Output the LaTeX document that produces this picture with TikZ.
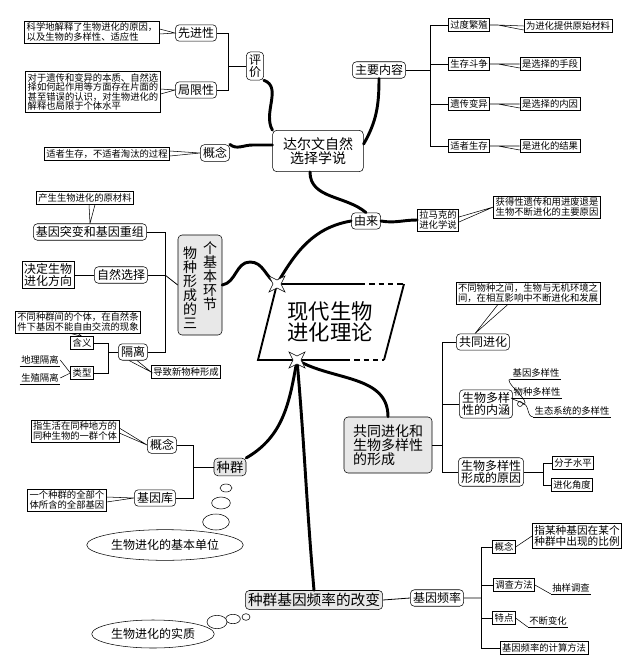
\documentclass[tikz,border=0pt]{standalone}
\usepackage{fontspec}
\setmainfont{Noto Sans CJK SC}
\usetikzlibrary{shapes.geometric,calc}
\newcommand{\fs}[1]{\fontsize{#1}{#1}\selectfont}
\tikzset{
  leaf/.style={draw, thin, inner sep=1.5pt, font=\fs{7}, align=left, fill=white},
  mid/.style={draw, rounded corners=3pt, inner sep=2pt, font=\fs{9}, align=center, fill=white},
  gbox/.style={mid, fill=gray!18},
  plain/.style={inner sep=1pt, font=\fs{7}},
  trunk/.style={line width=2.2pt, line cap=round},
  twig/.style={line width=0.6pt},
  bubble/.style={draw, ellipse, thin, fill=white, inner sep=1pt, font=\fs{9}},
  spark/.style={draw, star, star points=4, star point ratio=0.35, minimum size=6pt, fill=white, inner sep=0pt, thin}
}
\newcommand{\tail}[2]{\draw[thin] ($(#1.east)+(0,2)$) -- (#2.west) -- ($(#1.east)+(0,-3)$);}
\newcommand{\uline}[1]{\draw[thin] (#1.south west) -- (#1.south east);}
\begin{document}
\begin{tikzpicture}[x=0.75pt, y=-0.75pt]
		\useasboundingbox (0,0) rectangle (640,672);
		% centre
		\coordinate (c1) at (277,284);
		\coordinate (c2) at (404,284);
		\coordinate (c3) at (384,360);
		\coordinate (c4) at (258,360);
		\draw[line width=1.4pt] (360,284) -- (c1) -- (c4) -- (345,360);
		\draw[line width=1.4pt, dash pattern=on 4pt off 3pt] (360,284) -- (c2);
		\draw[line width=1.4pt] (c2) -- (c3);
		\draw[line width=1.4pt, dash pattern=on 4pt off 3pt] (345,360) -- (c3);
		\node[font=\fs{16}, align=center] (core) at (330,322) {现代生物\\进化理论};
		% Darwin
		\node[mid, font=\fs{10.5}, minimum width=68pt, minimum height=31pt] (dew) at (318,151) {达尔文自然\\选择学说};
		\node[mid] (zy) at (379,70) {主要内容};
		\node[leaf] (gd) at (469,25) {过度繁殖};
		\node[leaf] (gd2) at (568,26) {为进化提供原始材料};
		\node[leaf] (sc) at (469,64) {生存斗争};
		\node[leaf] (sc2) at (550,64) {是选择的手段};
		\node[leaf] (yc) at (469,104) {遗传变异};
		\node[leaf] (yc2) at (550,104) {是选择的内因};
		\node[leaf] (sz) at (469,146) {适者生存};
		\node[leaf] (sz2) at (550,146) {是进化的结果};
		\coordinate (b1) at (430,70);
		\draw[twig] (zy.east) -- (b1);
		\foreach \n in {gd,sc,yc,sz} \draw[twig] (b1) |- (\n.west);
		\foreach \n in {gd,sc,yc,sz} \draw[thin] (\n.east) -- ++(8,0) -- (\n2.west) (\n.east) -- ++(8,0) -- ($(\n2.west)+(0,4)$);
		\node[mid, font=\fs{9}] (pj) at (255,66) {评\\价};
		\node[mid] (xj) at (196,33) {先进性};
		\node[leaf] (xj2) at (92,32) {科学地解释了生物进化的原因，\\以及生物的多样性、适应性};
		\node[mid] (jx) at (196,90) {局限性};
		\node[leaf] (jx2) at (93,92) {对于遗传和变异的本质、自然选\\择如何起作用等方面存在片面的\\甚至错误的认识，对生物进化的\\解释也局限于个体水平};
		\coordinate (b2) at (228,66);
		\draw[twig] (pj.west) -- (b2);
		\foreach \n in {xj,jx} \draw[twig] (b2) |- (\n.east);
		\tail{xj2}{xj}
		\tail{jx2}{jx}
		\node[mid] (gn) at (215,153) {概念};
		\node[leaf] (gn2) at (107,154) {适者生存，不适者淘汰的过程};
		\tail{gn2}{gn}
		\node[mid] (yl) at (366,221) {由来};
		\node[leaf, align=center] (lmk) at (438,220) {拉马克的\\进化学说};
		\node[leaf] (lmk2) at (547,207) {获得性遗传和用进废退是\\生物不断进化的主要原因};
		\tail{lmk}{lmk2}
		\draw[trunk] (dew.north west) to[out=120, in=-20] (pj.south east);
		\draw[trunk] ($(dew.west)+(0,-6)$) to[out=180, in=0] ++(-20,0) to[out=180, in=-40] (gn.north east);
		\draw[trunk] ($(dew.north east)+(0,14)$) to[out=60, in=-90] (zy.south);
		\draw[trunk] ($(dew.south)+(-8,0)$) to[out=-90, in=140] (yl.north);
		\draw[trunk] (yl.east) to[out=-10, in=180] (lmk.west);
		\draw[trunk] (c1) to[out=60, in=190] (yl.west);
		% speciation
		\node[gbox, minimum width=33pt, minimum height=75pt] (wz) at (200,285) {};
		\node[font=\fs{10.5}, align=center] (wzl) at (190,288) {物\\种\\形\\成\\的\\三};
		\node[font=\fs{10.5}, align=center] (wzr) at (210,276) {个\\基\\本\\环\\节};
		\node[mid] (jt) at (90,232) {基因突变和基因重组};
		\node[leaf] (jt2) at (85,198) {产生生物进化的原材料};
		\node[mid] (zr) at (121,275) {自然选择};
		\node[leaf, font=\fs{9}, align=center] (zr2) at (48,275) {决定生物\\进化方向};
		\node[mid] (gl) at (133,352) {隔离};
		\node[leaf] (hy) at (82,343) {含义};
		\node[leaf] (hy2) at (78,322) {不同种群间的个体，在自然条\\件下基因不能自由交流的现象};
		\node[leaf] (lx) at (82,373) {类型};
		\node[plain] (dl) at (40,360) {地理隔离};
		\node[plain] (sz3) at (40,378) {生殖隔离};
		\uline{dl} \uline{sz3}
		\node[leaf] (dz) at (186,372) {导致新物种形成};
		\coordinate (b3) at (165,275);
		\draw[twig] (wz.west) -- (b3);
		\draw[twig] (jt.east) -| (b3) (gl.east) -| (b3) (zr.east) -- (b3);
		\draw[thin] (jt2.south) -- ++(4,0) -- (jt.north) (jt2.south) -- ++(10,0) -- (jt.north);
		\draw[thin] (zr2.east) -- (zr.west);
		\draw[thin] ($(hy2.south)+(-8,0)$) -- (hy.north) -- ($(hy2.south)+(0,0)$);
		\draw[twig] (gl.west) -- ++(-10,0) coordinate (b4);
		\draw[twig] (b4) |- (hy.east) (b4) |- (lx.east);
		\draw[thin] (dl.east) -- (lx.west) -- (sz3.east);
		\draw[thin] ($(gl.south)+(-4,0)$) -- (dz.west) -- ($(gl.south)+(4,0)$);
		\draw[trunk] (wz.east) to[out=10, in=180] (250,262) to[out=0, in=150] (c1);
		\node[spark] (s1) at (c1) {};
		% population
		\node[gbox, font=\fs{10}] (zq) at (230,467) {种群};
		\node[mid] (zgn) at (162,445) {概念};
		\node[leaf] (zgn2) at (75,431) {指生活在同种地方的\\同种生物的一群个体};
		\node[mid] (jyk) at (155,498) {基因库};
		\node[leaf] (jyk2) at (67,500) {一个种群的全部个\\体所含的全部基因};
		\coordinate (b5) at (193,467);
		\draw[twig] (zq.west) -- (b5);
		\draw[twig] (b5) |- (zgn.east) (b5) |- (jyk.east);
		\tail{zgn2}{zgn}
		\tail{jyk2}{jyk}
		\node[bubble, minimum width=9pt, minimum height=6pt] (p1) at (226,488) {};
		\node[bubble, minimum width=14pt, minimum height=9pt] (p2) at (221,503) {};
		\node[bubble, minimum width=20pt, minimum height=12pt] (p3) at (216,522) {};
		\node[bubble, minimum width=103pt, minimum height=23pt] (jbdw) at (165,545) {生物进化的基本单位};
		% gene frequency
		\node[gbox, font=\fs{11}] (gbl) at (314,600) {种群基因频率的改变};
		\node[mid] (jypl) at (437,598) {基因频率};
		\node[leaf] (fgn) at (504,547) {概念};
		\node[leaf, font=\fs{8}] (fgn2) at (577,536) {指某种基因在某个\\种群中出现的比例};
		\node[leaf] (dc) at (514,585) {调查方法};
		\node[plain] (dc2) at (571,588) {抽样调查};
		\node[leaf] (td) at (504,618) {特点};
		\node[plain] (td2) at (548,621) {不断变化};
		\node[leaf] (js) at (544,648) {基因频率的计算方法};
		\uline{dc2} \uline{td2}
		\coordinate (b6) at (481,598);
		\draw[twig] (gbl.east) -- (jypl.west) (jypl.east) -- (b6);
		\draw[twig] (481,547) -- (481,648);
		\foreach \n in {fgn,dc,td,js} \draw[twig] (\n.west) -- (\n.west -| b6);
		\draw[thin] (fgn.east) -- (fgn2.west);
		\draw[thin] (dc.east) -- (dc2.south west);
		\draw[thin] (td.east) -- (td2.south west);
		\node[bubble, minimum width=6pt, minimum height=5pt] (q1) at (246,617) {};
		\node[bubble, minimum width=11pt, minimum height=7pt] (q2) at (233,619) {};
		\node[bubble, minimum width=15pt, minimum height=10pt] (q3) at (217,622) {};
		\node[bubble, minimum width=78pt, minimum height=21pt] (sz4) at (153,634) {生物进化的实质};
		% coevolution
		\node[gbox, font=\fs{10.5}, align=left, minimum width=66pt, minimum height=42pt] (gt) at (388,445) {共同进化和\\生物多样性\\的形成};
		\node[mid] (gtjh) at (483,342) {共同进化};
		\node[leaf] (gtjh2) at (528,293) {不同物种之间，生物与无机环境之\\间，在相互影响中不断进化和发展};
		\node[mid, align=center] (nh) at (486,404) {生物多样\\性的内涵};
		\node[plain] (d1) at (536,373) {基因多样性};
		\node[plain] (d2) at (537,392) {物种多样性};
		\node[plain] (d3) at (572,411) {生态系统的多样性};
		\draw[thin] (520,404) circle (2.5);
		\coordinate (b8) at (523,404);
		\foreach \n in {d1,d2,d3} {\draw[thin] (b8) to[out=0, in=180] (\n.south west); \uline{\n}}
		\node[mid, align=center] (yy) at (491,472) {生物多样性\\形成的原因};
		\node[leaf] (fz) at (573,463) {分子水平};
		\node[leaf] (jh) at (572,485) {进化角度};
		\coordinate (b7) at (442,445);
		\draw[twig] (gt.east) -- (b7);
		\draw[twig] (442,342) -- (442,472);
		\foreach \n in {gtjh,nh,yy} \draw[twig] (\n.west) -- (\n.west -| b7);
		\draw[thin] ($(gtjh2.south)+(-30,0)$) -- ($(gtjh.north)+(-8,0)$) -- ($(gtjh2.south)+(-20,0)$);
		\draw[twig] (yy.east) -- (543,472) coordinate (b9);
		\draw[twig] (b9) |- (fz.west) (b9) |- (jh.west);
		% trunks from lower star
		\coordinate (s2) at (297,360);
		\draw[trunk] (s2) to[out=-100, in=30] (zq.north east);
		\draw[trunk] (s2) to[out=-85, in=95] (gbl.north);
		\draw[trunk] (s2) to[out=-30, in=90] (gt.north);
		\node[spark] (s2n) at (s2) {};
		\end{tikzpicture}
\end{document}
